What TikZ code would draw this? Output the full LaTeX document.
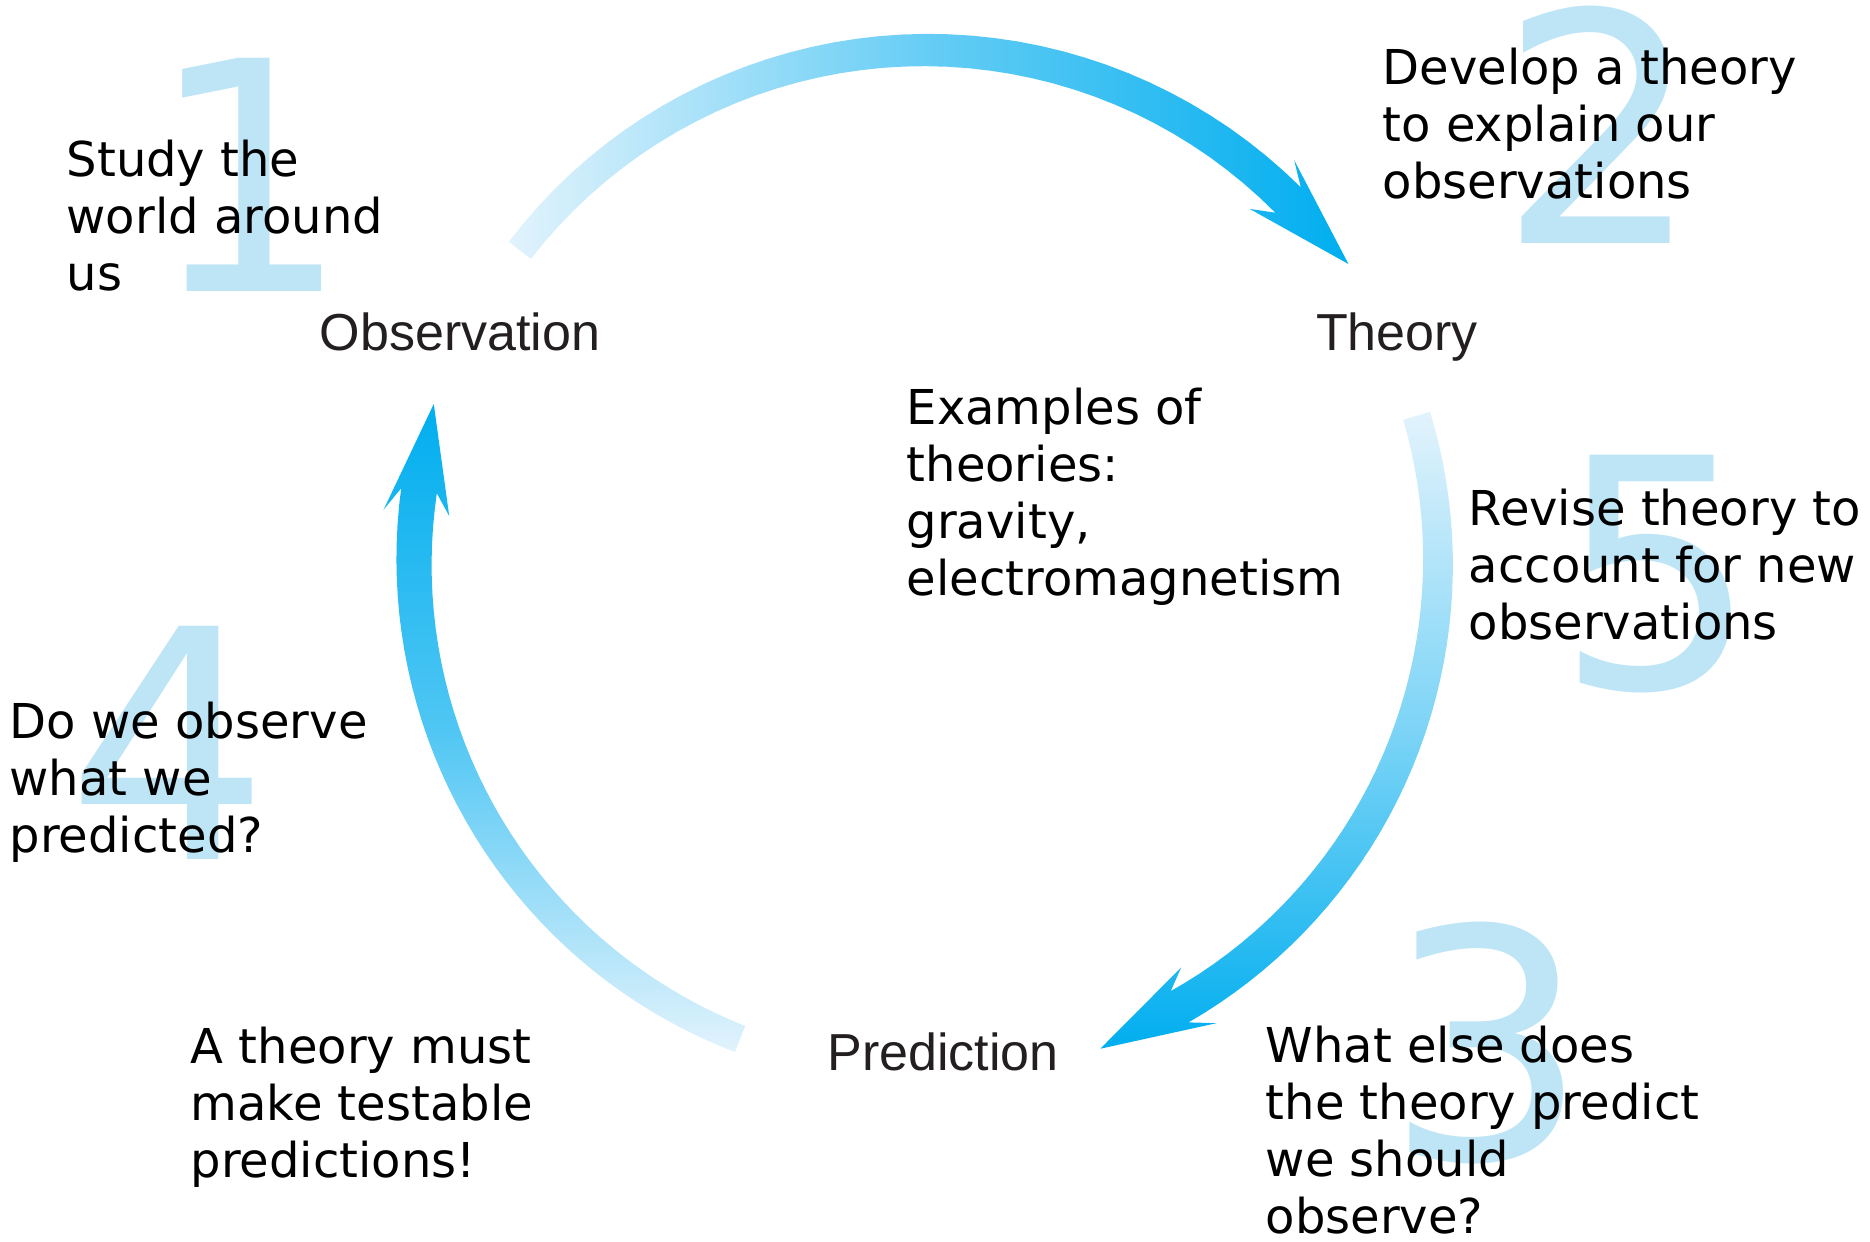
\documentclass[tikz,border=0pt]{standalone}
\usepackage{fontspec}
\setmainfont{DejaVu Sans}
\newfontfamily\labelfont{Liberation Sans}
\definecolor{arrowhead}{RGB}{0,174,239}
\definecolor{arrowtail}{RGB}{226,243,252}
\definecolor{numblue}{RGB}{190,229,246}
\definecolor{labelgray}{RGB}{35,31,32}
\newcommand{\rad}{512}
% #1 tail, #2 shaft end, #3 barbs, #4 tip (angles), #5 shading
\newcommand{\cyclearrow}[5]{%
	\shade[#5] plot[domain=#1:#2, samples=40] (\x:{\rad+14+4*(\x-#1)/(#2-#1)})
	-- (#3:{\rad+33}) -- (#4:{\rad+5}) -- (#3:{\rad-33})
	-- plot[domain=#2:#1, samples=40] (\x:{\rad-14-4*(\x-#1)/(#2-#1)}) -- cycle;
}

\begin{document}
\begin{tikzpicture}[x=0.01cm, y=0.01cm,
	note/.style={anchor=base west, align=left, inner sep=0pt, font=\fontsize{13.66}{16.2}\selectfont},
	stage/.style={anchor=base, inner sep=0pt, text=labelgray, font=\labelfont\fontsize{14.8}{17}\selectfont},
	stepnum/.style={anchor=base, inner sep=0pt, text=numblue, font=\fontsize{91}{100}\selectfont}]
	\useasboundingbox (0,0) rectangle (1870,-1241);
	
	\node[stepnum] (num1) at (249,-291) {1};
	\node[stepnum] (num2) at (1600,-243) {2};
	\node[stepnum] (num3) at (1487,-1159) {3};
	\node[stepnum] (num4) at (168,-859) {4};
	\node[stepnum] (num5) at (1657,-688) {5};
	
	\coordinate (hub) at (926,-562);
	\begin{scope}[shift={(hub)}]
		\cyclearrow{142.5}{45}{47.5}{35.2}{left color=arrowtail, right color=arrowhead, middle color=arrowhead!55!arrowtail}
		\cyclearrow{16.6}{-60.3}{-57.8}{-70.3}{top color=arrowtail, bottom color=arrowhead, middle color=arrowhead!45!arrowtail}
		\cyclearrow{248.7}{172}{174.5}{162.2}{top color=arrowhead, bottom color=arrowtail, middle color=arrowhead!65!arrowtail}
	\end{scope}
	
	\node[stage] (obs) at (460,-350) {Observation};
	\node[stage] (theory) at (1397,-350) {Theory};
	\node[stage] (pred) at (943,-1070) {Prediction};
	
	% base anchor sits on the last line
	\node[note] (study) at (66,-290) {Study the\\world around\\us};
	\node[note] (develop) at (1382,-198) {Develop a theory\\to explain our\\observations};
	\node[note] (examples) at (906,-595) {Examples of\\theories:\\gravity,\\electromagnetism};
	\node[note] (revise) at (1468,-639) {Revise theory to\\account for new\\observations};
	\node[note] (check) at (9,-852) {Do we observe\\what we\\predicted?};
	\node[note] (testable) at (190,-1177) {A theory must\\make testable\\predictions!};
	\node[note] (whatelse) at (1265,-1233) {What else does\\the theory predict\\we should\\observe?};
\end{tikzpicture}
\end{document}
